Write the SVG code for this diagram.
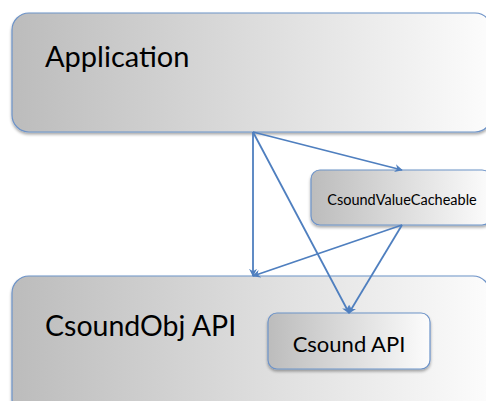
<svg xmlns="http://www.w3.org/2000/svg" width="486" height="401" viewBox="0 0 486 401">
  <defs>
    <linearGradient id="g" x1="0" y1="0" x2="1" y2="0">
      <stop offset="0" stop-color="#bcbcbc"/>
      <stop offset="1" stop-color="#fcfcfc"/>
    </linearGradient>
    <filter id="sh" x="-10%" y="-10%" width="120%" height="130%">
      <feGaussianBlur in="SourceAlpha" stdDeviation="1.5"/>
      <feOffset dx="0" dy="2" result="b"/>
      <feComponentTransfer><feFuncA type="linear" slope="0.35"/></feComponentTransfer>
      <feMerge><feMergeNode/><feMergeNode in="SourceGraphic"/></feMerge>
    </filter>
    <marker id="arr" viewBox="0 0 10 10" refX="9" refY="5" markerWidth="8" markerHeight="8" markerUnits="userSpaceOnUse" orient="auto">
      <path d="M0,0 L10,5 L0,10 L3,5 Z" fill="#4f7fbf"/>
    </marker>
  </defs>
  <style>
    .box { fill: url(#g); stroke: #6d93c8; stroke-width: 1.2; filter: url(#sh); }
    .t { font-family: Lato, "Open Sans", sans-serif; fill: #000; }
    .c { fill: none; stroke: #4f7fbf; stroke-width: 1.8; marker-end: url(#arr); }
  </style>

  <g id="application">
    <rect class="box" x="12" y="13" width="480" height="119" rx="17" ry="17"/>
    <text class="t" x="45" y="67" font-size="29">Application</text>
  </g>

  <g id="csoundobj-api">
    <rect class="box" x="12" y="276" width="478" height="140" rx="17" ry="17"/>
    <text class="t" x="45" y="336" font-size="28.5">CsoundObj API</text>
  </g>

  <g id="csound-api">
    <rect class="box" x="268" y="313" width="162" height="56" rx="9" ry="9"/>
    <text class="t" x="349" y="352" font-size="22" text-anchor="middle">Csound API</text>
  </g>

  <g id="csoundvaluecacheable">
    <rect class="box" x="311" y="170" width="180" height="55" rx="9" ry="9"/>
    <text class="t" x="402" y="205" font-size="14.5" text-anchor="middle">CsoundValueCacheable</text>
  </g>

  <g id="connectors">
    <line class="c" x1="253" y1="132" x2="402" y2="170"/>
    <line class="c" x1="253" y1="132" x2="253" y2="276"/>
    <line class="c" x1="253" y1="132" x2="349" y2="313"/>
    <line class="c" x1="402" y1="225" x2="253" y2="276"/>
    <line class="c" x1="402" y1="225" x2="349" y2="313"/>
  </g>
</svg>
